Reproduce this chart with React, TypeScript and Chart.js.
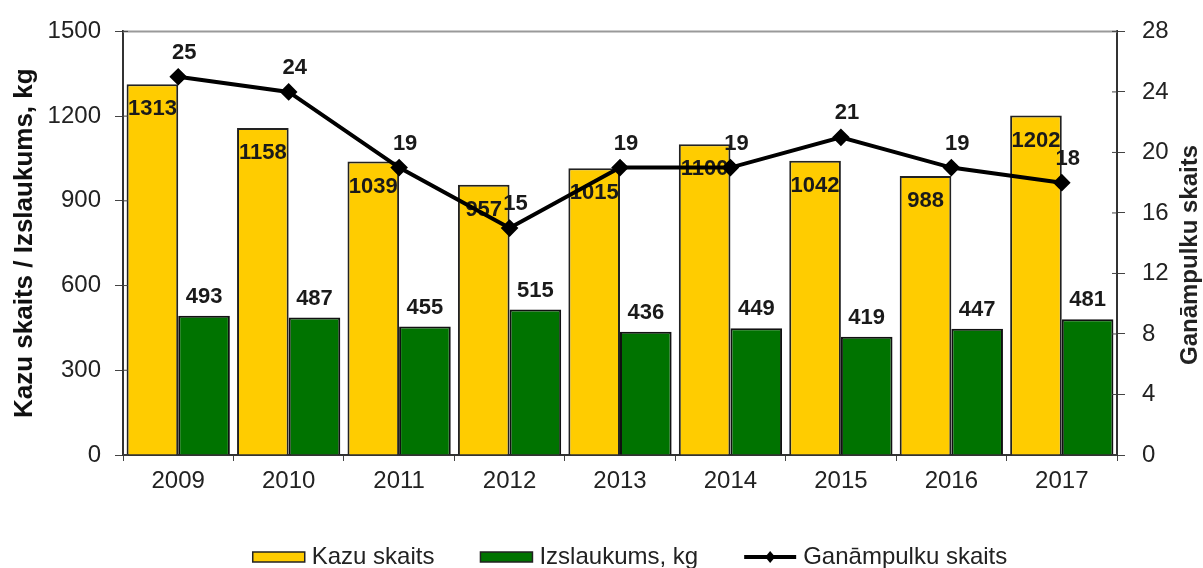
import React, { useEffect, useRef } from "react";
import { Chart, registerables } from "chart.js";

Chart.register(...registerables);

const years = ["2009", "2010", "2011", "2012", "2013", "2014", "2015", "2016", "2017"];
const kazuSkaits = [1313, 1158, 1039, 957, 1015, 1100, 1042, 988, 1202];
const izslaukums = [493, 487, 455, 515, 436, 449, 419, 447, 481];
const ganampulki = [25, 24, 19, 15, 19, 19, 21, 19, 18];

const leftTitle = "Kazu skaits / Izslaukums, kg";
const rightTitle = "Ganāmpulku skaits";
const legendNames = ["Kazu skaits", "Izslaukums, kg", "Ganāmpulku skaits"];

const FONT = "'Liberation Sans', Arial, sans-serif";
const YELLOW = "#FFCC00";
const GREEN = "#007300";

const labelsPlugin = {
  id: "customLabels",
  afterDatasetDraw(chart: any, args: any) {
    const ctx = chart.ctx;
    const i = args.index;
    const meta = args.meta;
    const ds = chart.data.datasets[i];
    ctx.save();
    ctx.font = `bold 22px ${FONT}`;
    ctx.fillStyle = "#1a1a1a";
    ctx.textAlign = "center";
    ctx.textBaseline = "middle";
    meta.data.forEach((el: any, j: number) => {
      const v = ds.data[j];
      if (i === 0) ctx.fillText(String(v), el.x, el.y + 25);
      else if (i === 1) ctx.fillText(String(v), el.x, el.y - 19);
      else ctx.fillText(String(v), el.x + 6, el.y - 24);
    });
    ctx.restore();
  },
  afterDraw(chart: any) {
    const ctx = chart.ctx;
    const a = chart.chartArea;
    ctx.save();
    ctx.strokeStyle = "#9a9a9a";
    ctx.lineWidth = 2;
    ctx.beginPath();
    ctx.moveTo(a.left, a.top);
    ctx.lineTo(a.right, a.top);
    ctx.stroke();
    // left axis tick marks reaching slightly inside the plot
    const ys = chart.scales.y;
    ctx.strokeStyle = "#444";
    ctx.lineWidth = 1;
    ys.ticks.forEach((t: any) => {
      const py = ys.getPixelForValue(t.value);
      ctx.beginPath();
      ctx.moveTo(a.left, py);
      ctx.lineTo(a.left + 5, py);
      ctx.stroke();
    });
    const y1 = chart.scales.y1;
    y1.ticks.forEach((t: any) => {
      const py = y1.getPixelForValue(t.value);
      ctx.beginPath();
      ctx.moveTo(a.right - 5, py);
      ctx.lineTo(a.right, py);
      ctx.stroke();
    });
    ctx.translate(1190, 255);
    ctx.rotate(-Math.PI / 2);
    ctx.font = `bold 24px ${FONT}`;
    ctx.fillStyle = "#222";
    ctx.textAlign = "center";
    ctx.textBaseline = "middle";
    ctx.fillText(rightTitle, 0, 0);
    ctx.restore();

    ctx.save();
    ctx.font = `24px ${FONT}`;
    ctx.textBaseline = "middle";
    ctx.textAlign = "left";
    const boxW = 52;
    const gapText = 7;
    const gapItem = 46;
    const widths = legendNames.map((n) => boxW + gapText + ctx.measureText(n).width);
    const total = widths.reduce((s, w) => s + w, 0) + gapItem * (widths.length - 1);
    let x = 630 - total / 2;
    const cy = 557;
    legendNames.forEach((name, k) => {
      if (k < 2) {
        ctx.fillStyle = k === 0 ? YELLOW : GREEN;
        ctx.fillRect(x, cy - 5, boxW, 10);
        ctx.strokeStyle = "#222";
        ctx.lineWidth = 1.5;
        ctx.strokeRect(x, cy - 5, boxW, 10);
      } else {
        ctx.strokeStyle = "#000";
        ctx.lineWidth = 4;
        ctx.beginPath();
        ctx.moveTo(x, cy);
        ctx.lineTo(x + boxW, cy);
        ctx.stroke();
        ctx.fillStyle = "#000";
        ctx.beginPath();
        const mx = x + boxW / 2;
        ctx.moveTo(mx, cy - 6);
        ctx.lineTo(mx + 5, cy);
        ctx.lineTo(mx, cy + 6);
        ctx.lineTo(mx - 5, cy);
        ctx.closePath();
        ctx.fill();
      }
      ctx.fillStyle = "#222";
      ctx.fillText(name, x + boxW + gapText, cy);
      x += widths[k] + gapItem;
    });
    ctx.restore();
  },
};

export default function App() {
  const ref = useRef<HTMLCanvasElement | null>(null);
  useEffect(() => {
    if (!ref.current) return;
    Chart.defaults.font.family = FONT;
    const plain = (v: any) => String(v);
    const chart = new Chart(ref.current, {
      type: "bar",
      data: {
        labels: years,
        datasets: [
          {
            type: "bar",
            label: legendNames[0],
            data: kazuSkaits,
            yAxisID: "y",
            backgroundColor: YELLOW,
            borderColor: "#222",
            borderWidth: 2,
            categoryPercentage: 0.935,
            barPercentage: 1.0,
            order: 1,
          },
          {
            type: "bar",
            label: legendNames[1],
            data: izslaukums,
            yAxisID: "y",
            backgroundColor: GREEN,
            borderColor: "#111",
            borderWidth: 2,
            categoryPercentage: 0.935,
            barPercentage: 1.0,
            order: 1,
          },
          {
            type: "line",
            label: legendNames[2],
            data: ganampulki,
            yAxisID: "y1",
            borderColor: "#000",
            borderWidth: 4,
            pointStyle: "rectRot",
            pointRadius: 6,
            pointBackgroundColor: "#000",
            pointBorderColor: "#000",
            tension: 0,
            order: 0,
          },
        ],
      } as any,
      options: {
        animation: false,
        responsive: false,
        maintainAspectRatio: false,
        layout: { padding: { top: 25, bottom: 55, left: 0, right: 0 } },
        plugins: { legend: { display: false }, tooltip: { enabled: false } },
        scales: {
          x: {
            grid: { display: true, drawOnChartArea: false, offset: true, tickLength: 6, color: "#444" },
            border: { color: "#333", width: 2 },
            ticks: { font: { size: 24 }, color: "#222", padding: 6 },
            afterFit: (s: any) => {
              s.height = 58;
            },
          },
          y: {
            position: "left",
            min: 0,
            max: 1500,
            ticks: { stepSize: 300, font: { size: 24 }, color: "#222", padding: 14, callback: plain },
            grid: { display: true, drawOnChartArea: false, tickLength: 8, color: "#444" },
            border: { color: "#333", width: 2 },
            title: {
              display: true,
              text: leftTitle,
              font: { size: 26, weight: "bold" },
              color: "#111",
              padding: { top: 9, bottom: 0 },
            },
            afterFit: (s: any) => {
              s.width = 123;
            },
          },
          y1: {
            position: "right",
            min: 0,
            max: 28,
            ticks: { stepSize: 4, font: { size: 24 }, color: "#222", padding: 17, callback: plain },
            grid: { display: true, drawOnChartArea: false, tickLength: 8, color: "#444" },
            border: { color: "#333", width: 2 },
            afterFit: (s: any) => {
              s.width = 86;
            },
          },
        },
      } as any,
      plugins: [labelsPlugin],
    });
    return () => chart.destroy();
  }, []);
  return (
    <div style={{ position: "absolute", left: 0, top: 0, width: 1203, height: 568, background: "#fff" }}>
      <canvas ref={ref} width={1203} height={568} />
    </div>
  );
}
